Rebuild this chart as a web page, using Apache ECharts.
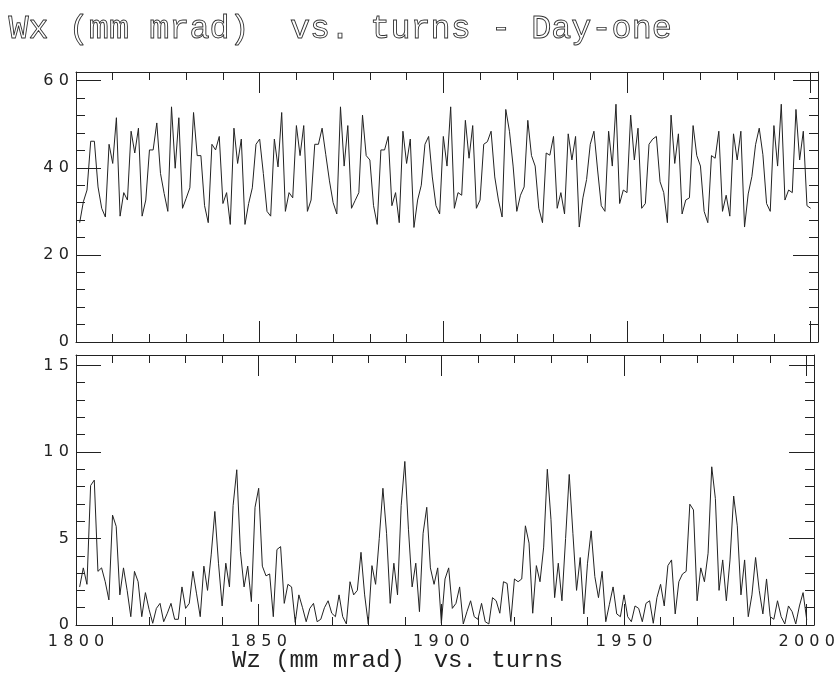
<!DOCTYPE html>
<html>
<head>
<meta charset="utf-8">
<title>Wx / Wz vs. turns</title>
<script src="https://cdn.jsdelivr.net/npm/echarts@6/dist/echarts.min.js"></script>
<style>
    html, body { margin: 0; padding: 0; background: #fff; }
    #chart { width: 838px; height: 676px; }
</style>
</head>
<body>
<div id="chart"></div>
<script>
// Primera vuelta registrada (una muestra por vuelta hasta 2000)
const firstTurn = 1801;

// Wx (mm mrad), panel superior
const wxValues = [
    27.4, 32.2, 34.9, 46.1, 46.1, 35.6, 30.7, 28.7, 45.4, 41.0,
    51.5, 28.9, 34.3, 32.6, 48.4, 43.4, 49.1, 28.9, 32.6, 44.1,
    44.1, 50.3, 38.7, 34.1, 30.0, 54.0, 39.9, 51.5, 30.7, 33.0,
    35.4, 52.7, 42.8, 42.8, 31.3, 27.4, 45.4, 44.1, 47.2, 31.8,
    34.3, 27.0, 49.1, 41.0, 46.6, 27.0, 31.8, 35.4, 45.4, 46.6,
    38.7, 30.0, 28.9, 46.6, 40.2, 52.7, 30.0, 34.3, 33.1, 49.7,
    42.8, 49.7, 30.0, 32.6, 45.4, 45.4, 49.1, 43.0, 37.0, 32.0,
    29.4, 54.0, 40.4, 49.7, 30.7, 32.5, 34.3, 52.1, 42.8, 41.8,
    31.3, 27.0, 44.1, 44.1, 47.2, 31.3, 34.3, 27.4, 48.4, 41.0,
    46.6, 26.3, 32.6, 36.0, 45.4, 47.2, 37.9, 31.3, 29.4, 47.2,
    40.4, 54.0, 30.7, 34.3, 33.7, 50.9, 42.2, 49.7, 30.7, 32.6,
    45.4, 46.0, 48.4, 37.9, 32.6, 28.7, 53.4, 48.4, 40.4, 30.0,
    33.7, 35.6, 50.9, 42.8, 40.4, 30.7, 27.4, 43.4, 42.9, 47.2,
    30.7, 34.3, 29.4, 47.8, 41.8, 47.2, 26.4, 33.1, 37.3, 45.4,
    48.4, 39.5, 31.3, 30.0, 48.4, 40.4, 54.6, 31.8, 34.9, 34.3,
    52.1, 41.8, 49.1, 30.7, 31.8, 45.4, 46.6, 47.2, 36.8, 34.3,
    27.4, 52.1, 41.0, 47.8, 29.4, 32.6, 33.1, 49.7, 42.8, 40.4,
    30.0, 27.4, 42.8, 42.2, 48.4, 30.0, 33.7, 28.9, 47.8, 41.8,
    48.4, 26.4, 34.0, 38.0, 45.3, 49.1, 43.0, 31.8, 30.0, 49.7,
    40.4, 54.6, 32.6, 34.9, 34.3, 53.4, 41.8, 48.4, 31.3, 30.7
];

// Wz (mm mrad), panel inferior
const wzValues = [
    2.2, 3.3, 2.35, 8.06, 8.37, 3.1, 3.3, 2.5, 1.45, 6.35,
    5.7, 1.74, 3.3, 2.0, 0.48, 3.1, 2.5, 0.48, 1.87, 0.9,
    0.1, 0.96, 1.25, 0.19, 0.68, 1.25, 0.33, 0.33, 2.2, 0.96,
    1.25, 3.1, 1.8, 0.48, 3.4, 2.0, 4.05, 6.56, 3.57, 1.1,
    3.57, 2.2, 6.9, 8.97, 4.24, 2.2, 3.4, 1.35, 6.8, 7.9,
    3.4, 2.84, 2.95, 0.48, 4.36, 4.53, 1.25, 2.35, 2.2, 0.15,
    1.74, 1.0, 0.19, 0.96, 1.25, 0.19, 0.33, 1.0, 1.4, 0.68,
    0.48, 1.74, 0.48, 0.06, 2.5, 1.74, 2.0, 4.2, 1.74, 0.06,
    3.43, 2.35, 5.0, 7.9, 5.3, 1.25, 3.57, 1.74, 6.9, 9.45,
    5.5, 2.2, 3.57, 0.77, 5.3, 6.8, 3.3, 2.35, 3.3, 0.1,
    2.66, 3.3, 0.96, 1.25, 2.2, 0.06, 0.77, 1.4, 0.48, 0.33,
    1.25, 0.19, 0.06, 1.58, 1.4, 0.68, 2.5, 2.4, 0.2, 2.66,
    2.5, 2.66, 5.73, 4.73, 0.68, 3.43, 2.5, 4.5, 9.0, 6.1,
    1.58, 3.57, 1.4, 5.0, 8.7, 5.3, 2.0, 3.9, 0.64, 3.57,
    5.44, 2.8, 1.58, 3.1, 0.19, 1.2, 2.2, 0.64, 0.48, 1.74,
    0.48, 0.19, 1.1, 0.96, 0.19, 1.25, 1.4, 0.1, 1.58, 2.35,
    1.1, 3.43, 3.76, 0.64, 2.5, 2.95, 3.1, 6.98, 6.65, 1.4,
    3.3, 2.5, 4.15, 9.14, 7.3, 2.0, 3.76, 1.4, 3.76, 7.45,
    5.73, 1.74, 3.76, 0.48, 1.74, 3.9, 2.0, 0.64, 2.66, 0.48,
    0.33, 1.4, 0.48, 0.06, 1.1, 0.77, 0.06, 1.1, 1.87, 0.3
];

// Etiquetas de los ejes
const xTickLabels = [1800, 1850, 1900, 1950, 2000];
const wxTickLabels = [0, 20, 40, 60];
const wzTickLabels = [0, 5, 10, 15];

const ink = '#222';

// Separar los dígitos como en el original ("1 8 0 0")
const spaced = v => String(v).split('').join('\u2004');

// Dos ejes X por lado: uno con marcas cortas (cada 10) y otro con marcas largas (cada 50)
function xAxes(gridIndex, position, withLabels) {
    const base = {
        type: 'value', gridIndex: gridIndex, position: position,
        min: 1800, max: 2002, splitLine: { show: false }
    };
    return [
        Object.assign({}, base, {
            interval: 10,
            axisLine: { show: true, onZero: false, lineStyle: { color: ink, width: 1 } },
            axisTick: { show: true, inside: true, length: 8, lineStyle: { color: ink } },
            axisLabel: { show: false }
        }),
        Object.assign({}, base, {
            interval: 50,
            axisLine: { show: false, onZero: false },
            axisTick: { show: true, inside: true, length: 21, lineStyle: { color: ink } },
            axisLabel: {
                show: withLabels, margin: 9, color: ink,
                fontFamily: 'DejaVu Sans', fontSize: 16,
                formatter: v => xTickLabels.includes(v) ? spaced(v) : ''
            }
        })
    ];
}

// Igual para Y: marcas menores y mayores, a la izquierda y a la derecha
function yAxes(gridIndex, position, max, minorStep, majorStep, labels, withLabels) {
    const base = {
        type: 'value', gridIndex: gridIndex, position: position,
        min: 0, max: max, splitLine: { show: false }
    };
    return [
        Object.assign({}, base, {
            interval: minorStep,
            axisLine: { show: true, onZero: false, lineStyle: { color: ink, width: 1 } },
            axisTick: { show: true, inside: true, length: 9, lineStyle: { color: ink } },
            axisLabel: { show: false }
        }),
        Object.assign({}, base, {
            interval: majorStep,
            axisLine: { show: false, onZero: false },
            axisTick: { show: true, inside: true, length: 25, lineStyle: { color: ink } },
            axisLabel: {
                show: withLabels, margin: 7, color: ink,
                fontFamily: 'DejaVu Sans', fontSize: 16,
                padding: [0, 0, 9, 0],
                formatter: v => labels.includes(v) ? spaced(v) : ''
            }
        })
    ];
}

const chart = echarts.init(document.getElementById('chart'));

const option = {
    backgroundColor: '#fff',
    animation: false,
    grid: [
        { left: 76, top: 72, width: 742, height: 270 },
        { left: 76, top: 355, width: 742, height: 270 }
    ],
    // Índices: 0-3 panel superior, 4-7 panel inferior
    xAxis: [].concat(
        xAxes(0, 'bottom', false), xAxes(0, 'top', false),
        xAxes(1, 'bottom', true), xAxes(1, 'top', false)
    ),
    yAxis: [].concat(
        yAxes(0, 'left', 62, 4, 20, wxTickLabels, true), yAxes(0, 'right', 62, 4, 20, wxTickLabels, false),
        yAxes(1, 'left', 15.6, 1, 5, wzTickLabels, true), yAxes(1, 'right', 15.6, 1, 5, wzTickLabels, false)
    ),
    series: [
        {
            name: 'Wx', type: 'line', xAxisIndex: 0, yAxisIndex: 0,
            data: wxValues.map((v, i) => [firstTurn + i, v]),
            symbol: 'none', lineStyle: { color: ink, width: 1 }
        },
        {
            name: 'Wz', type: 'line', xAxisIndex: 4, yAxisIndex: 4,
            data: wzValues.map((v, i) => [firstTurn + i, v]),
            symbol: 'none', lineStyle: { color: ink, width: 1 }
        }
    ],
    graphic: [
        {
            // Título hueco (solo contorno) como en la figura original
            type: 'text', left: 8, top: 12,
            style: {
                text: 'Wx (mm mrad)  vs. turns - Day-one',
                font: '33.5px "Liberation Mono"',
                fill: 'none', stroke: '#333', lineWidth: 0.9
            }
        },
        {
            type: 'text', left: 232, top: 649,
            style: {
                text: 'Wz (mm mrad)  vs. turns',
                font: '24px "Liberation Mono"',
                fill: ink
            }
        }
    ]
};

chart.setOption(option);
</script>
</body>
</html>
